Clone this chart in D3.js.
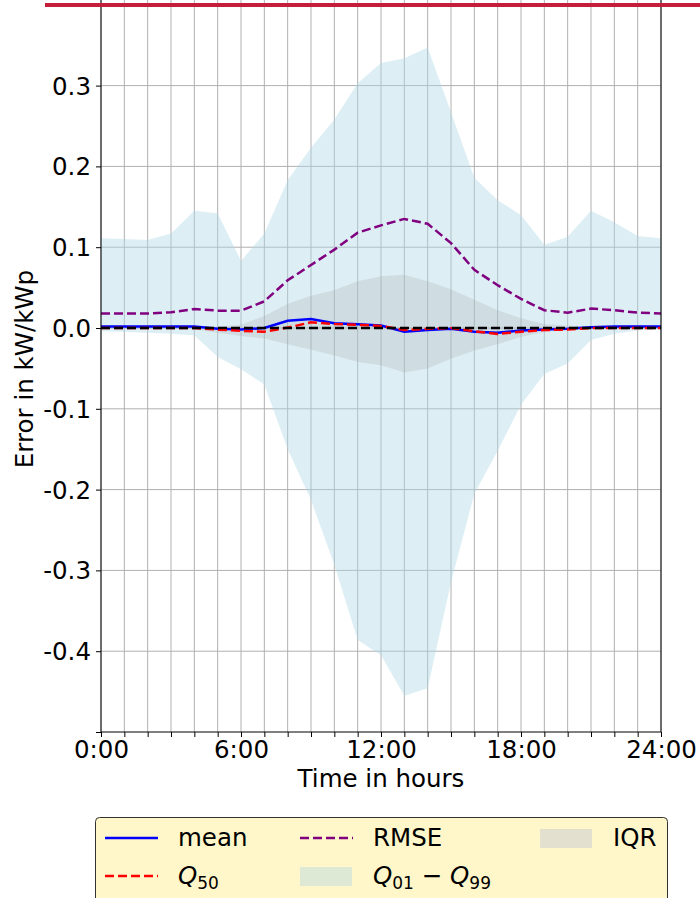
<!DOCTYPE html>
<html>
<head>
<meta charset="utf-8">
<script src="https://cdn.jsdelivr.net/npm/d3@7"></script>
<style>
    body { margin: 0; background: #ffffff; }
    #chart-area { width: 700px; height: 898px; overflow: hidden; }
    text { font-family: "DejaVu Sans", sans-serif; }
</style>
</head>
<body>
<div id="chart-area"></div>
<script>
// hourly values
const hours = [0, 1, 2, 3, 4, 5, 6, 7, 8, 9, 10, 11, 12, 13, 14, 15, 16, 17, 18, 19, 20, 21, 22, 23, 24];
const q99 = [0.111, 0.110, 0.109, 0.117, 0.145, 0.142, 0.083, 0.117, 0.183, 0.223, 0.258, 0.303, 0.328, 0.334, 0.347, 0.267, 0.186, 0.158, 0.140, 0.103, 0.113, 0.145, 0.131, 0.114, 0.111];
const q01 = [-0.004, -0.005, -0.006, -0.007, -0.009, -0.036, -0.051, -0.070, -0.150, -0.213, -0.293, -0.386, -0.405, -0.455, -0.446, -0.315, -0.205, -0.152, -0.095, -0.057, -0.044, -0.015, -0.007, -0.003, -0.002];
const iqrHi = [0.001, 0.001, 0.001, 0.001, 0.001, 0.002, 0.004, 0.015, 0.030, 0.040, 0.047, 0.058, 0.064, 0.066, 0.058, 0.048, 0.035, 0.022, 0.012, 0.005, 0.003, 0.002, 0.002, 0.002, 0.002];
const iqrLo = [-0.001, -0.001, -0.001, -0.001, -0.002, -0.006, -0.010, -0.013, -0.020, -0.027, -0.034, -0.042, -0.046, -0.055, -0.050, -0.038, -0.028, -0.020, -0.011, -0.005, -0.002, -0.001, -0.001, -0.001, -0.001];
const rmse = [0.018, 0.018, 0.018, 0.0195, 0.0235, 0.0215, 0.0215, 0.033, 0.059, 0.078, 0.097, 0.118, 0.127, 0.135, 0.129, 0.105, 0.072, 0.053, 0.036, 0.022, 0.019, 0.024, 0.022, 0.019, 0.018];
const mean = [0.002, 0.002, 0.002, 0.002, 0.002, -0.001, -0.002, 0.000, 0.009, 0.011, 0.006, 0.0045, 0.003, -0.0045, -0.0025, -0.001, -0.0045, -0.006, -0.003, -0.002, -0.001, 0.001, 0.002, 0.002, 0.002];
const q50 = [0, 0, 0, 0, 0, -0.002, -0.0035, -0.0045, 0.0005, 0.007, 0.005, 0.004, 0.0025, -0.0025, -0.001, 0, -0.004, -0.0075, -0.0045, -0.0025, -0.002, 0, 0, 0, 0];

const xTicks = [0, 6, 12, 18, 24];
const xTickLabels = ["0:00", "6:00", "12:00", "18:00", "24:00"];
const yTicks = [-0.4, -0.3, -0.2, -0.1, 0.0, 0.1, 0.2, 0.3];
const yTickLabels = ["-0.4", "-0.3", "-0.2", "-0.1", "0.0", "0.1", "0.2", "0.3"];

const W = 700, H = 898;
const left = 101, right = 661, bottom = 732;

let svg = d3.select("#chart-area")
    .append("svg")
    .attr("width", W)
    .attr("height", H);

let x = d3.scaleLinear().domain([0, 24]).range([left, right]);
// axis top sits above the visible picture, 0.0 at y=328
let y = d3.scaleLinear().domain([-0.5, 0.45]).range([bottom, bottom - 0.95 * 808]);

let rows = hours.map((h, i) => ({
    h: h, q99: q99[i], q01: q01[i], hi: iqrHi[i], lo: iqrLo[i],
    rmse: rmse[i], mean: mean[i], q50: q50[i]
}));

// grid
let grid = svg.append("g").attr("class", "grid");
grid.selectAll(".vgrid")
    .data(hours)
    .enter()
    .append("line")
    .attr("x1", d => x(d)).attr("x2", d => x(d))
    .attr("y1", y.range()[1]).attr("y2", bottom)
    .attr("stroke", "#b0b0b0")
    .attr("stroke-width", 1);
grid.selectAll(".hgrid")
    .data(yTicks)
    .enter()
    .append("line")
    .attr("x1", left).attr("x2", right)
    .attr("y1", d => y(d)).attr("y2", d => y(d))
    .attr("stroke", "#b0b0b0")
    .attr("stroke-width", 1);

// bands
let area = (lo, hi) => d3.area().x(d => x(d.h)).y0(d => y(d[lo])).y1(d => y(d[hi]));

svg.append("path")
    .datum(rows)
    .attr("d", area("q01", "q99"))
    .attr("fill", "#add8e6")
    .attr("opacity", 0.42);

svg.append("path")
    .datum(rows)
    .attr("d", area("lo", "hi"))
    .attr("fill", "#a0a0a0")
    .attr("opacity", 0.22);

// lines
let line = key => d3.line().x(d => x(d.h)).y(d => y(d[key]));

svg.append("path")
    .datum(rows)
    .attr("d", line("rmse"))
    .attr("fill", "none")
    .attr("stroke", "#800080")
    .attr("stroke-width", 2.5)
    .attr("stroke-dasharray", "9,4");

svg.append("path")
    .datum(rows)
    .attr("d", line("mean"))
    .attr("fill", "none")
    .attr("stroke", "#0000ff")
    .attr("stroke-width", 2.5);

svg.append("path")
    .datum(rows)
    .attr("d", line("q50"))
    .attr("fill", "none")
    .attr("stroke", "#ff0000")
    .attr("stroke-width", 2.5)
    .attr("stroke-dasharray", "9,4");

svg.append("line")
    .attr("x1", x(0)).attr("x2", x(24))
    .attr("y1", y(0)).attr("y2", y(0))
    .attr("stroke", "#000000")
    .attr("stroke-width", 2.5)
    .attr("stroke-dasharray", "9,4");

// axes
let xAxis = d3.axisBottom(x)
    .tickValues(hours)
    .tickSize(5)
    .tickFormat(d => {
        let k = xTicks.indexOf(d);
        return k >= 0 ? xTickLabels[k] : "";
    });

let yAxis = d3.axisLeft(y)
    .tickValues(yTicks.concat([-0.5]))
    .tickSize(5)
    .tickFormat(d => {
        let k = yTicks.findIndex(t => Math.abs(t - d) < 1e-9);
        return k >= 0 ? yTickLabels[k] : "";
    });

let gx = svg.append("g")
    .attr("transform", "translate(0," + bottom + ")")
    .call(xAxis);
gx.select(".domain").remove();
gx.selectAll("text")
    .attr("dy", "0")
    .attr("y", 26)
    .style("font-size", "24.5px")
    .attr("fill", "#000");

let gy = svg.append("g")
    .attr("transform", "translate(" + left + ",0)")
    .call(yAxis);
gy.select(".domain").remove();
gy.selectAll("text")
    .attr("x", -10)
    .attr("dy", "0.35em")
    .style("font-size", "24.5px")
    .attr("fill", "#000");

// spines
svg.append("line")
    .attr("x1", left).attr("x2", left)
    .attr("y1", y.range()[1]).attr("y2", bottom)
    .attr("stroke", "#000").attr("stroke-width", 1);
svg.append("line")
    .attr("x1", right).attr("x2", right)
    .attr("y1", y.range()[1]).attr("y2", bottom)
    .attr("stroke", "#000").attr("stroke-width", 1);
svg.append("line")
    .attr("x1", left).attr("x2", right)
    .attr("y1", bottom).attr("y2", bottom)
    .attr("stroke", "#000").attr("stroke-width", 1);

// axis labels
svg.append("text")
    .attr("x", (left + right) / 2)
    .attr("y", 787)
    .attr("text-anchor", "middle")
    .style("font-size", "24.5px")
    .text("Time in hours");

svg.append("text")
    .attr("transform", "translate(33," + 369 + ") rotate(-90)")
    .attr("text-anchor", "middle")
    .style("font-size", "24.5px")
    .text("Error in kW/kWp");

// top red rule
svg.append("rect")
    .attr("x", 45).attr("y", 3)
    .attr("width", W - 45).attr("height", 4)
    .attr("fill", "#c41e3a");

// legend
let legend = svg.append("g").attr("class", "legend");
legend.append("rect")
    .attr("x", 95.5).attr("y", 817.5)
    .attr("width", 572).attr("height", 100)
    .attr("rx", 4)
    .attr("fill", "#fff7c9")
    .attr("stroke", "#333")
    .attr("stroke-width", 1);

let legendItems = [
    {col: 0, row: 0, kind: "line", color: "#0000ff", dash: null, label: [["mean", false, false]]},
    {col: 0, row: 1, kind: "line", color: "#ff0000", dash: "9,4", label: [["Q", true, false], ["50", false, true]]},
    {col: 1, row: 0, kind: "line", color: "#800080", dash: "9,4", label: [["RMSE", false, false]]},
    {col: 1, row: 1, kind: "patch", color: "#dde8d5", label: [["Q", true, false], ["01", false, true], [" \u2212 ", false, false], ["Q", true, false], ["99", false, true]]},
    {col: 2, row: 0, kind: "patch", color: "#e3e0cf", label: [["IQR", false, false]]}
];
let colX = [105, 300, 540];
let rowY = [838, 876];

legendItems.forEach(it => {
    let hx = colX[it.col], hy = rowY[it.row];
    if (it.kind === "line") {
        let l = legend.append("line")
            .attr("x1", hx).attr("x2", hx + 53)
            .attr("y1", hy).attr("y2", hy)
            .attr("stroke", it.color)
            .attr("stroke-width", 2.5);
        if (it.dash) l.attr("stroke-dasharray", it.dash);
    } else {
        legend.append("rect")
            .attr("x", hx).attr("y", hy - 9)
            .attr("width", 52).attr("height", 19)
            .attr("fill", it.color);
    }
    let t = legend.append("text")
        .attr("x", hx + 73)
        .attr("y", hy + 8)
        .style("font-size", "24.5px");
    it.label.forEach(p => {
        let s = t.append("tspan").text(p[0]);
        if (p[1]) s.style("font-style", "italic");
        if (p[2]) s.style("font-size", "17px").attr("dy", 5);
    });
    // back to the baseline after a subscript
    let spans = t.selectAll("tspan").nodes();
    for (let i = 1; i < spans.length; i++) {
        if (it.label[i - 1][2] && !it.label[i][2]) d3.select(spans[i]).attr("dy", -5);
    }
});
</script>
</body>
</html>
